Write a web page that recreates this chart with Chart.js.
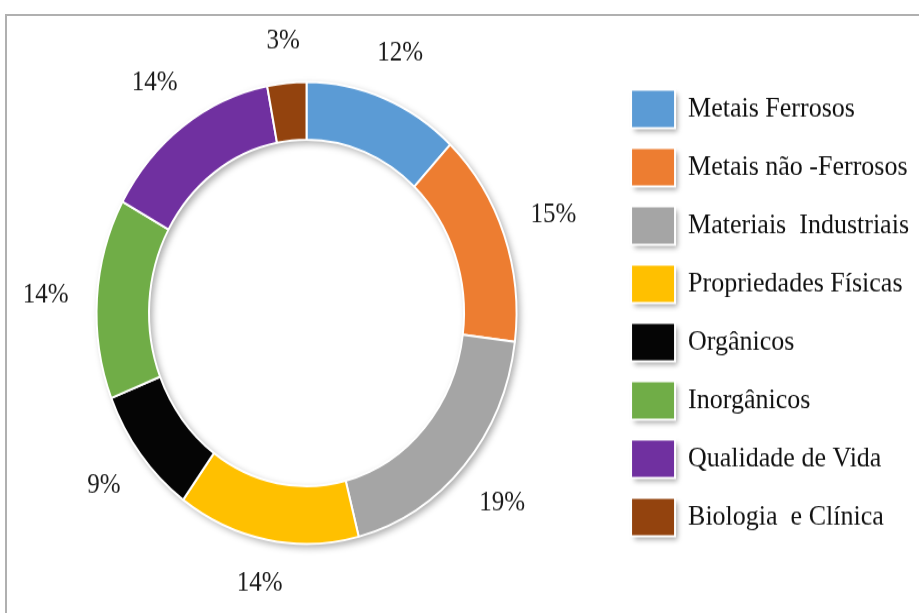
<!DOCTYPE html>
<html>
<head>
<meta charset="utf-8">
<script src="https://cdn.jsdelivr.net/npm/chart.js@4/dist/chart.umd.min.js"></script>
<style>
  html, body { margin: 0; padding: 0; background: #fff; overflow: hidden; }
  #frame {
    position: absolute; left: 5px; top: 14px; width: 940px; height: 640px;
    border-left: 2px solid #b0b0b0; border-top: 2px solid #b0b0b0;
  }
  #wrap {
    position: absolute; left: 0; top: 0; width: 919px; height: 557px;
    transform: scaleY(1.1); transform-origin: 0 0;
  }
</style>
</head>
<body>
<div id="frame"></div>
<div id="wrap"><canvas id="chart"></canvas></div>
<script>
const categories = [
  'Metais Ferrosos',
  'Metais não -Ferrosos',
  'Materiais  Industriais',
  'Propriedades Físicas',
  'Orgânicos',
  'Inorgânicos',
  'Qualidade de Vida',
  'Biologia  e Clínica'
];
const shares = [12, 15, 19, 14, 9, 14, 14, 3];
const sliceColors = ['#5B9BD5', '#ED7D31', '#A5A5A5', '#FFC000', '#050505', '#70AD47', '#7030A0', '#93430E'];

const serif = "'Liberation Serif', 'Times New Roman', serif";

// soft shadow under the ring, drawn before the slices
const ringShadow = {
  id: 'ringShadow',
  beforeDatasetsDraw(chart) {
    const arc = chart.getDatasetMeta(0).data[0];
    if (!arc) return;
    const { x, y, outerRadius, innerRadius } = arc.getProps(['x', 'y', 'outerRadius', 'innerRadius'], true);
    const ctx = chart.ctx;
    ctx.save();
    ctx.shadowColor = 'rgba(0,0,0,0.35)';
    ctx.shadowBlur = 7;
    ctx.shadowOffsetX = 3;
    ctx.shadowOffsetY = 3;
    ctx.fillStyle = '#ffffff';
    ctx.beginPath();
    ctx.arc(x, y, outerRadius, 0, Math.PI * 2);
    ctx.arc(x, y, innerRadius, Math.PI * 2, 0, true);
    ctx.fill('evenodd');
    ctx.restore();
  }
};

// percentage labels outside each slice, pushed out by the size of the text box
const outsideLabels = {
  id: 'outsideLabels',
  afterDatasetsDraw(chart) {
    const ctx = chart.ctx;
    const meta = chart.getDatasetMeta(0);
    const gap = 28;
    const halfH = 8.5;
    ctx.save();
    ctx.font = '25px ' + serif;
    ctx.fillStyle = '#1a1a1a';
    ctx.textAlign = 'center';
    ctx.textBaseline = 'middle';
    meta.data.forEach((arc, i) => {
      const p = arc.getProps(['x', 'y', 'startAngle', 'endAngle', 'outerRadius'], true);
      const text = shares[i] + '%';
      const halfW = ctx.measureText(text).width / 2;
      const mid = (p.startAngle + p.endAngle) / 2;
      const c = Math.cos(mid), s = Math.sin(mid);
      const r = p.outerRadius + gap + Math.abs(c) * halfW + Math.abs(s) * halfH;
      ctx.fillText(text, p.x + c * r, p.y + s * r);
    });
    ctx.restore();
  }
};

// small drop shadow behind the legend swatches
const legendShadow = {
  id: 'legendShadow',
  afterDraw(chart) {
    const legend = chart.legend;
    if (!legend || !legend.legendHitBoxes) return;
    const opts = legend.options.labels;
    const ctx = chart.ctx;
    ctx.save();
    ctx.globalCompositeOperation = 'destination-over';
    ctx.shadowColor = 'rgba(0,0,0,0.35)';
    ctx.shadowBlur = 5;
    ctx.shadowOffsetX = 3;
    ctx.shadowOffsetY = 3;
    ctx.fillStyle = '#ffffff';
    legend.legendHitBoxes.forEach(hb => {
      ctx.fillRect(hb.left, hb.top, opts.boxWidth, opts.boxHeight);
    });
    ctx.restore();
  }
};

new Chart(document.getElementById('chart'), {
  type: 'doughnut',
  data: {
    labels: categories,
    datasets: [{
      data: shares,
      backgroundColor: sliceColors,
      borderColor: '#ffffff',
      borderWidth: 2
    }]
  },
  options: {
    responsive: true,
    maintainAspectRatio: false,
    animation: false,
    radius: 210,
    cutout: '75%',
    layout: { padding: { top: 12, bottom: 0, left: -11, right: 0 } },
    plugins: {
      tooltip: { enabled: false },
      legend: {
        position: 'right',
        align: 'center',
        labels: {
          boxWidth: 44,
          boxHeight: 35,
          padding: 18,
          color: '#111111',
          font: { family: serif, size: 26 }
        }
      }
    }
  },
  plugins: [ringShadow, outsideLabels, legendShadow]
});
</script>
</body>
</html>
